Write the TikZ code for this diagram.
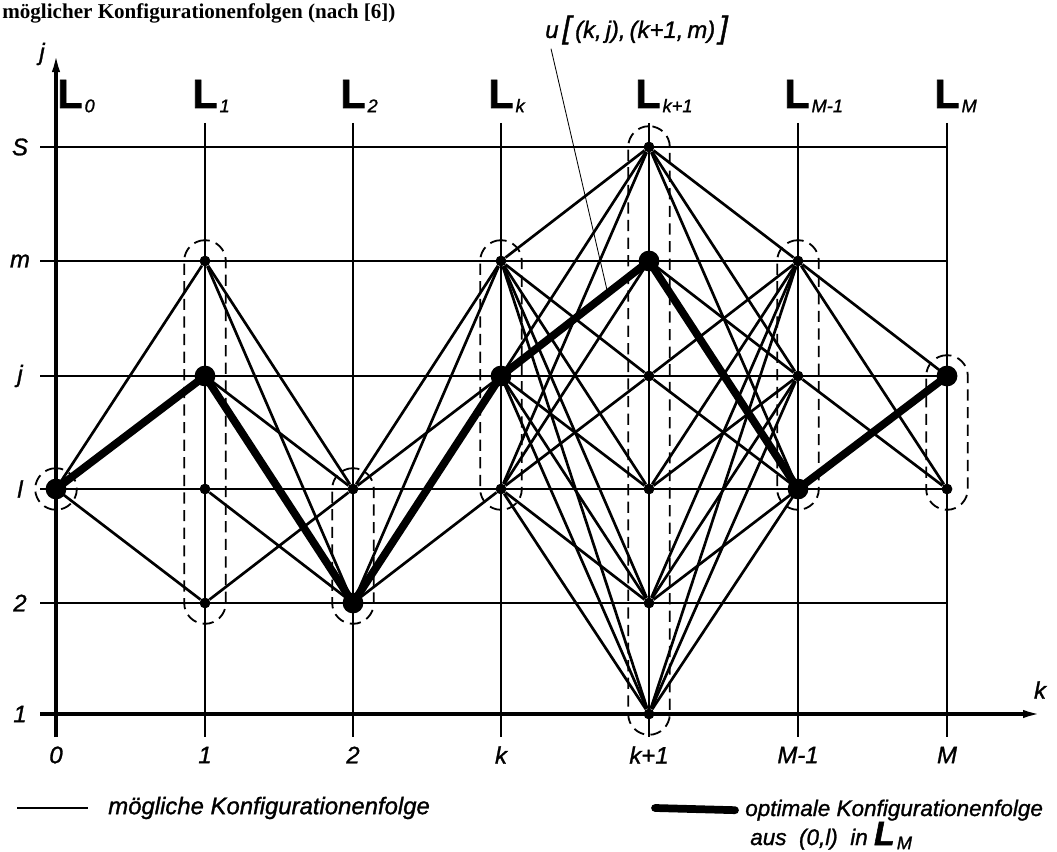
\documentclass[tikz,border=0pt]{standalone}
\usepackage{fontspec}
\setmainfont{Liberation Sans}[ItalicFeatures={FakeBold=1.2}]
\newfontfamily\titlefont{Liberation Serif}
\newfontfamily\Lfont{Liberation Sans Bold}[FakeBold=1.5]
\usetikzlibrary{arrows.meta, fit, calc}

\newcommand{\lettering}{\fontsize{17}{20}\selectfont\itshape}
\newcommand{\Lname}[2][29]{{\Lfont\fontsize{#1}{#1}\selectfont L}\rlap{\hspace{1.5pt}\raisebox{-3pt}{\fontsize{13}{13}\selectfont\itshape #2}}}
\newcommand{\bigbr}[1]{{\fontsize{22}{22}\selectfont #1}}

% row heights of the configurations
\def\rowyS{147}
\def\rowym{261}
\def\rowyj{376}
\def\rowyl{489}
\def\rowytwo{603}
\def\rowyone{714}

\begin{document}
\begin{tikzpicture}[x=0.025cm, y=-0.025cm,
  grid/.style={line width=1.2pt},
  axisline/.style={line width=2.6pt, -{Latex[length=0.55cm, width=0.2cm]}},
  pt/.style={circle, fill, inner sep=0pt, minimum size=0.27cm},
  edge/.style={line width=1.9pt},
  optimal/.style={line width=5.5pt, line join=round},
  group/.style={draw, line width=1.3pt, dash pattern=on 0.28cm off 0.16cm,
    rounded corners=0.52cm, inner sep=0.52cm},
  lettering/.style={font=\lettering},
  leader/.style={line width=0.6pt},
]
  \useasboundingbox (0,0) rectangle (1057,852);

  \node[font=\titlefont\bfseries\fontsize{15}{18}\selectfont, anchor=base west, inner sep=0pt] (title) at (2,19) {möglicher Konfigurationenfolgen (nach [6])};

  % grid
  \foreach \x in {205,353,501,649,798,947}
    \draw[grid] (\x,123) -- (\x,737);
  \foreach \y in {147,261,376,489,603}
    \draw[grid] (40,\y) -- (947,\y);
  \draw[axisline] (40,714) -- (1045,714);
  \draw[axisline] (56,737) -- (56,50);

  % configurations in each stage
  \foreach \c/\x/\rows in {0/56/{l}, 1/205/{m,j,l,two}, 2/353/{l,two}, 3/501/{m,j,l},
      4/649/{S,m,j,l,two,one}, 5/798/{m,j,l}, 6/947/{j,l}}
    \foreach \r in \rows
      \node[pt] (c\c-\r) at (\x,\csname rowy\r\endcsname) {};

  % possible transitions
  \foreach \a/\b/\ra/\rb in {0/1/{l}/{m,j,l,two}, 1/2/{m,j,l,two}/{l,two},
      2/3/{l,two}/{m,j,l}, 3/4/{m,j,l}/{S,m,j,l,two,one},
      4/5/{S,m,j,l,two,one}/{m,j,l}, 5/6/{m,j,l}/{j,l}}
    \foreach \p in \ra
      \foreach \q in \rb
        \draw[edge] (c\a-\p) -- (c\b-\q);

  % optimal sequence
  \draw[optimal] (c0-l) -- (c1-j) -- (c2-two) -- (c3-j) -- (c4-m) -- (c5-l) -- (c6-j);
  \foreach \n in {c0-l, c1-j, c2-two, c3-j, c4-m, c5-l, c6-j}
    \fill (\n) circle (0.26cm);

  % stages
  \node[group, fit=(c0-l.center)] (g0) {};
  \node[group, fit=(c1-m.center)(c1-two.center)] (g1) {};
  \node[group, fit=(c2-l.center)(c2-two.center)] (g2) {};
  \node[group, fit=(c3-m.center)(c3-l.center)] (g3) {};
  \node[group, fit=(c4-S.center)(c4-one.center)] (g4) {};
  \node[group, fit=(c5-m.center)(c5-l.center)] (g5) {};
  \node[group, fit=(c6-j.center)(c6-l.center)] (g6) {};

  \foreach \c/\x/\txt in {0/70/0, 1/205/1, 2/353/2, 3/501/k, 4/648/k+1, 5/797/M-1, 6/947/M}
    \node[anchor=base, inner sep=0pt] (L\c) at (\x,108) {\Lname{\txt}};

  % axis labels
  \foreach \r/\txt in {S/S, m/m, j/j, l/l, two/2, one/1}
    \node[lettering] (row-\r) at (20,\csname rowy\r\endcsname) {\txt};
  \foreach \c/\x/\txt in {0/56/0, 1/205/1, 2/353/2, 3/501/k, 4/649/k+1, 5/798/M-1, 6/947/M}
    \node[lettering] (col-\c) at (\x,755) {\txt};
  \node[lettering] (jlab) at (42,54) {j};
  \node[lettering] (klab) at (1040,690) {k};

  % cost of one transition
  \node[lettering, anchor=west, inner sep=0pt] (ucost) at (545,30) {u\,\bigbr{[}\,(k,\,j),\,(k+1,\,m)\,\bigbr{]}};
  \coordinate (ucost-tip) at (607,290);
  \draw[leader] ([xshift=0.15cm, yshift=-0.1cm]ucost.south west) -- (ucost-tip);

  % legend
  \coordinate (leg-thin) at (17,808);
  \node[lettering, anchor=west, inner sep=0pt] (leg-poss) at (108,808) {mögliche Konfigurationenfolge};
  \draw[edge] (leg-thin) -- ([xshift=-0.5cm]leg-poss.west);
  \coordinate (leg-thick) at (655,808);
  \node[font=\fontsize{16}{19}\selectfont\itshape, anchor=base west, inner sep=0pt] (leg-opt) at (745,816) {optimale Konfigurationenfolge};
  \node[font=\fontsize{16}{19}\selectfont\itshape, anchor=base west, inner sep=0pt] (leg-opt2) at (750,845) {aus\ \ (0,l)\ \ in \Lname[24]{M}};
  \draw[optimal, line cap=round] (leg-thick) -- ([xshift=-0.25cm]leg-opt.west);
\end{tikzpicture}
\end{document}
